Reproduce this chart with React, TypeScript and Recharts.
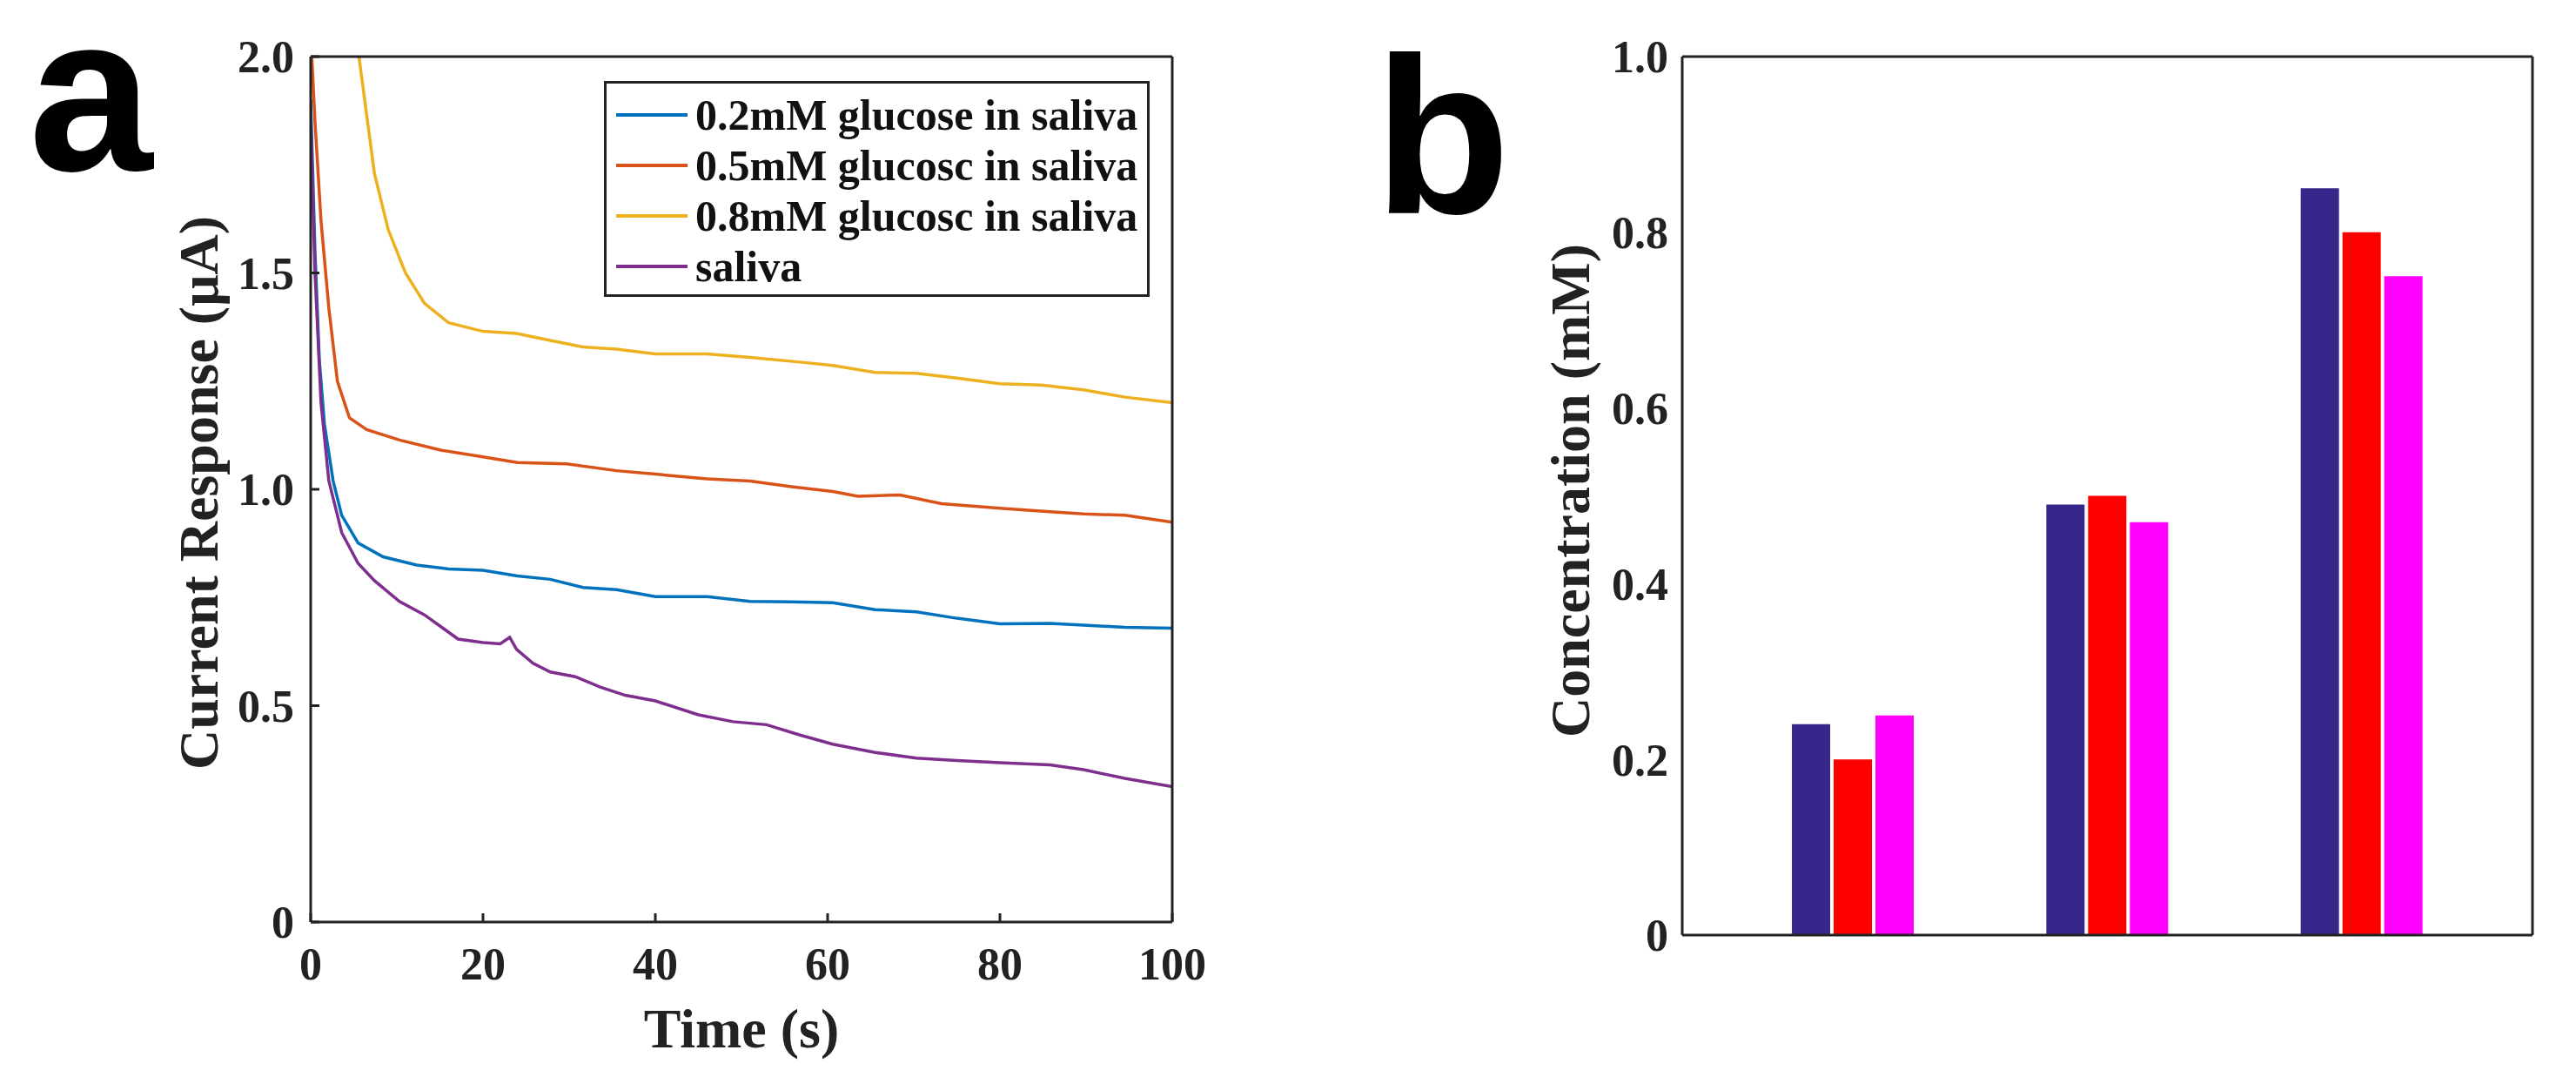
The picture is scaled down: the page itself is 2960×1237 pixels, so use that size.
import React from 'react';
import { LineChart, Line, XAxis, YAxis, Legend, BarChart, Bar } from 'recharts';

// ---------- Panel a: chronoamperometry curves ----------
const seriesNames = ['0.2mM glucose in saliva', '0.5mM glucosc in saliva', '0.8mM glucosc in saliva', 'saliva'];
const seriesColors = ['#0072BD', '#D95319', '#EDB120', '#7E2F8E'];

const blueT = [0, 0.5, 1, 1.6, 2.6, 3.6, 5.5, 8.4, 12.3, 16, 20, 24, 27.8, 31.6, 35.5, 40, 46, 51, 55.8, 60.6, 65.5, 70.3, 75, 80, 85.8, 89.7, 94.5, 100];
const blueV = [1.9, 1.55, 1.3, 1.15, 1.02, 0.94, 0.876, 0.844, 0.825, 0.816, 0.813, 0.8, 0.792, 0.773, 0.768, 0.752, 0.752, 0.741, 0.74, 0.738, 0.722, 0.717, 0.702, 0.689, 0.69, 0.686, 0.681, 0.679];

const orangeT = [0, 0.5, 1.2, 2.1, 3.1, 4.5, 6.5, 10.3, 15.2, 20, 24, 29.7, 35.5, 40, 46, 51, 55.8, 60.6, 63.5, 68.4, 73.2, 80, 85.8, 89.7, 94.5, 100];
const orangeV = [2.05, 1.85, 1.62, 1.42, 1.25, 1.165, 1.138, 1.114, 1.09, 1.075, 1.062, 1.059, 1.043, 1.035, 1.024, 1.019, 1.006, 0.995, 0.984, 0.987, 0.967, 0.956, 0.948, 0.943, 0.94, 0.924];

const yellowT = [2, 3.5, 4.5, 5.6, 7.4, 9, 11, 13.2, 16, 20, 23.9, 27.8, 31.6, 35.5, 40, 46, 51, 56.8, 60.6, 65.5, 70.3, 75, 80, 84.8, 89.7, 94.5, 100];
const yellowV = [3.3, 2.6, 2.3, 2.0, 1.73, 1.6, 1.5, 1.43, 1.385, 1.365, 1.36, 1.344, 1.329, 1.324, 1.313, 1.313, 1.305, 1.294, 1.286, 1.27, 1.268, 1.257, 1.244, 1.241, 1.23, 1.213, 1.2];

const purpleT = [0, 0.5, 1.2, 2.1, 3.6, 5.5, 7.4, 10.3, 13.2, 17.1, 20, 22, 23.1, 23.9, 25.8, 27.8, 30.7, 33.6, 36.5, 40, 45, 49, 52.9, 56.8, 60.6, 65.5, 70.3, 75, 80, 85.8, 89.7, 94.5, 100];
const purpleV = [1.85, 1.5, 1.2, 1.02, 0.9, 0.829, 0.789, 0.741, 0.71, 0.654, 0.646, 0.643, 0.658, 0.63, 0.598, 0.578, 0.567, 0.543, 0.524, 0.511, 0.479, 0.463, 0.456, 0.432, 0.411, 0.392, 0.379, 0.373, 0.368, 0.363, 0.352, 0.332, 0.313];

const timeTicks = [0, 20, 40, 60, 80, 100];
const currentTicks = [0, 0.5, 1, 1.5, 2];

// ---------- Panel b: concentration bars ----------
const groups = ['0.2mM', '0.5mM', '0.8mM'];
const barSeries1 = [0.24, 0.49, 0.85];
const barSeries2 = [0.2, 0.5, 0.8];
const barSeries3 = [0.25, 0.47, 0.75];
const barColors = ['#35288A', '#FF0000', '#FF00FF'];
const concTicks = [0, 0.2, 0.4, 0.6, 0.8, 1.0];

const zip = (t: number[], v: number[]) => t.map((x, i) => ({ t: x, v: v[i] }));
const lineData = [zip(blueT, blueV), zip(orangeT, orangeV), zip(yellowT, yellowV), zip(purpleT, purpleV)];
const barData = groups.map((g, i) => ({ group: g, m1: barSeries1[i], m2: barSeries2[i], m3: barSeries3[i] }));

const SERIF = '"Liberation Serif", "Times New Roman", serif';
const SANS = '"Liberation Sans", Arial, sans-serif';
const INK = '#222';
const axisLine = { stroke: INK, strokeWidth: 3 };
const tickStyle = { fill: INK, fontSize: 52, fontFamily: SERIF, fontWeight: 'bold' as const };

const fmt1 = (v: number) => (v === 0 ? '0' : v.toFixed(1));

const renderLegend = (props: any) => {
  const payload = props.payload || [];
  return (
    <div
      style={{
        border: '3px solid #222',
        background: '#fff',
        boxSizing: 'border-box',
        width: 627,
        height: 248,
        paddingTop: 7,
      }}
    >
      {payload.map((p: any, i: number) => (
        <div key={i} style={{ display: 'flex', alignItems: 'center', height: 58 }}>
          <div style={{ marginLeft: 11, width: 82, height: 4, background: p.color }} />
          <span
            style={{
              marginLeft: 9,
              fontFamily: SERIF,
              fontWeight: 'bold',
              fontSize: 50,
              color: '#111',
              lineHeight: '58px',
              whiteSpace: 'nowrap',
            }}
          >
            {p.value}
          </span>
        </div>
      ))}
    </div>
  );
};

const xTitle = (text: string) => (props: any) => {
  const vb = props.viewBox || {};
  return (
    <text x={vb.x + vb.width / 2} y={vb.y + 144} textAnchor="middle" fontFamily={SERIF} fontWeight="bold" fontSize={64} fill={INK}>
      {text}
    </text>
  );
};

const yTitle = (text: string, dy: number) => (props: any) => {
  const vb = props.viewBox || {};
  const x = vb.x + 13;
  const y = vb.y + vb.height / 2 + dy;
  return (
    <text x={x} y={y} transform={`rotate(-90 ${x} ${y})`} textAnchor="middle" fontFamily={SERIF} fontWeight="bold" fontSize={64} fill={INK}>
      {text}
    </text>
  );
};

export default function App() {
  return (
    <div style={{ position: 'absolute', left: 0, top: 0, width: 2960, height: 1237, background: '#fff', overflow: 'hidden' }}>
      <div style={{ position: 'absolute', left: 0, top: 0 }}>
        <LineChart width={1480} height={1237} margin={{ top: 64, right: 132, bottom: 118, left: 237 }}>
          <XAxis
            dataKey="t"
            type="number"
            domain={[0, 100]}
            ticks={timeTicks}
            interval={0}
            allowDataOverflow
            height={60}
            tick={tickStyle}
            tickSize={-10}
            tickMargin={39}
            axisLine={axisLine}
            tickLine={axisLine}
            label={{ content: xTitle('Time (s)') }}
          />
          <YAxis
            type="number"
            domain={[0, 2]}
            ticks={currentTicks}
            interval={0}
            allowDataOverflow
            width={120}
            tick={tickStyle}
            tickSize={-10}
            tickMargin={29}
            tickFormatter={fmt1}
            axisLine={axisLine}
            tickLine={axisLine}
            label={{ content: yTitle('Current Response (μA)', 4) }}
          />
          <XAxis xAxisId="top" orientation="top" type="number" domain={[0, 100]} height={1} tick={false} tickLine={false} axisLine={axisLine} />
          <YAxis yAxisId="right" orientation="right" type="number" domain={[0, 2]} width={1} tick={false} tickLine={false} axisLine={axisLine} />
          <Legend
            layout="horizontal"
            verticalAlign="middle"
            align="center"
            content={renderLegend}
            wrapperStyle={{ position: 'absolute', left: 694, top: 93, width: 627, height: 248 }}
          />
          {lineData.map((d, i) => (
            <Line
              key={seriesNames[i]}
              data={d}
              dataKey="v"
              name={seriesNames[i]}
              stroke={seriesColors[i]}
              strokeWidth={3.5}
              dot={false}
              activeDot={false}
              type="linear"
              isAnimationActive={false}
            />
          ))}
        </LineChart>
      </div>

      <div style={{ position: 'absolute', left: 1480, top: 0 }}>
        <BarChart
          width={1480}
          height={1237}
          data={barData}
          margin={{ top: 64, right: 49, bottom: 162, left: 333 }}
          barSize={44}
          barGap={4}
        >
          <XAxis dataKey="group" padding={{ left: 50, right: 50 }} height={1} tick={false} tickLine={false} axisLine={axisLine} />
          <YAxis
            type="number"
            domain={[0, 1]}
            ticks={concTicks}
            interval={0}
            width={120}
            tick={tickStyle}
            tickSize={0}
            tickLine={false}
            tickMargin={16}
            tickFormatter={fmt1}
            axisLine={axisLine}
            label={{ content: yTitle('Concentration (mM)', -6) }}
          />
          <XAxis xAxisId="top" dataKey="group" orientation="top" height={1} tick={false} tickLine={false} axisLine={axisLine} />
          <YAxis yAxisId="right" orientation="right" type="number" domain={[0, 1]} width={1} tick={false} tickLine={false} axisLine={axisLine} />
          <Bar dataKey="m1" fill={barColors[0]} isAnimationActive={false} />
          <Bar dataKey="m2" fill={barColors[1]} isAnimationActive={false} />
          <Bar dataKey="m3" fill={barColors[2]} isAnimationActive={false} />
        </BarChart>
      </div>

      <svg style={{ position: 'absolute', left: 0, top: 0, pointerEvents: 'none' }} width={2960} height={1237}>
        <text x={33} y={196} fontFamily={SANS} fontWeight="bold" fontSize={256} fill="#000">a</text>
        <text x={1579} y={245} fontFamily={SANS} fontWeight="bold" fontSize={256} fill="#000">b</text>
      </svg>
    </div>
  );
}
